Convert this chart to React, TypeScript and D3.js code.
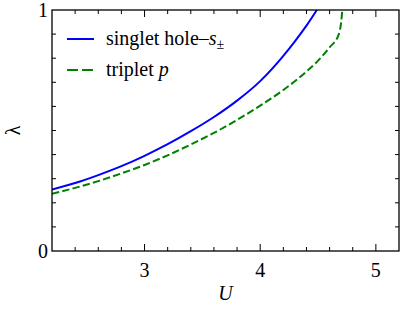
import { scaleLinear, line, curveMonotoneX } from "d3";

type Pt = { u: number; l: number };

const SINGLET_U = [2.2, 2.4, 2.6, 2.8, 3.0, 3.2, 3.4, 3.6, 3.8, 4.0, 4.2, 4.3, 4.4, 4.49];
const SINGLET_L = [0.255, 0.282, 0.315, 0.352, 0.395, 0.443, 0.497, 0.556, 0.624, 0.705, 0.81, 0.87, 0.935, 1.0];

const TRIPLET_U = [2.2, 2.4, 2.6, 2.8, 3.0, 3.2, 3.4, 3.6, 3.8, 4.0, 4.2, 4.4, 4.5, 4.6, 4.68, 4.7, 4.71];
const TRIPLET_L = [0.237, 0.262, 0.29, 0.322, 0.357, 0.397, 0.442, 0.49, 0.544, 0.603, 0.668, 0.745, 0.79, 0.845, 0.9, 0.95, 1.0];

const X_MAJOR = [3, 4, 5];
const X_MINOR = [2.4, 2.6, 2.8, 3.2, 3.4, 3.6, 3.8, 4.2, 4.4, 4.6, 4.8, 5.0];
const Y_LABELS = [0, 1];
const Y_TICKS = [0.1, 0.2, 0.3, 0.4, 0.5, 0.6, 0.7, 0.8, 0.9];

const W = 403;
const H = 310;
const M = { left: 52, right: 4, top: 10, bottom: 59 };
const SERIF = { fontFamily: "Liberation Serif, Times New Roman, serif" };

const toPts = (us: number[], ls: number[]): Pt[] => us.map((u, i) => ({ u, l: ls[i] }));

export default function App() {
  const iw = W - M.left - M.right;
  const ih = H - M.top - M.bottom;

  const x = scaleLinear().domain([2.2, 5.2]).range([0, iw]);
  const y = scaleLinear().domain([0, 1]).range([ih, 0]);

  const path = line<Pt>()
    .x(d => x(d.u))
    .y(d => y(d.l))
    .curve(curveMonotoneX);

  const singlet = path(toPts(SINGLET_U, SINGLET_L)) ?? "";
  const triplet = path(toPts(TRIPLET_U, TRIPLET_L)) ?? "";

  return (
    <svg width={W} height={H} style={{ position: "absolute", left: 0, top: 0 }}>
      <defs>
        <clipPath id="plot">
          <rect x={0} y={0} width={iw} height={ih} />
        </clipPath>
      </defs>
      <g transform={`translate(${M.left},${M.top})`}>
        {/* curves */}
        <g clipPath="url(#plot)">
          <path d={singlet} fill="none" stroke="#0000ff" strokeWidth={2} />
          <path d={triplet} fill="none" stroke="#008000" strokeWidth={2} strokeDasharray="7.4,3.2" />
        </g>

        {/* ticks, mirrored on all sides */}
        {X_MAJOR.map(t => (
          <g key={"xM" + t}>
            <line x1={x(t)} x2={x(t)} y1={ih} y2={ih - 7} stroke="black" strokeWidth={1} />
            <line x1={x(t)} x2={x(t)} y1={0} y2={7} stroke="black" strokeWidth={1} />
            <text x={x(t)} y={ih + 26} textAnchor="middle" fontSize={20} style={SERIF}>{t}</text>
          </g>
        ))}
        {X_MINOR.filter(t => !X_MAJOR.includes(t)).map(t => (
          <g key={"xm" + t}>
            <line x1={x(t)} x2={x(t)} y1={ih} y2={ih - 4} stroke="black" strokeWidth={1} />
            <line x1={x(t)} x2={x(t)} y1={0} y2={4} stroke="black" strokeWidth={1} />
          </g>
        ))}
        {Y_TICKS.map(t => (
          <g key={"y" + t}>
            <line x1={0} x2={4} y1={y(t)} y2={y(t)} stroke="black" strokeWidth={1} />
            <line x1={iw} x2={iw - 4} y1={y(t)} y2={y(t)} stroke="black" strokeWidth={1} />
          </g>
        ))}
        {Y_LABELS.map(t => (
          <text key={"yl" + t} x={-4} y={y(t) + 7} textAnchor="end" fontSize={20} style={SERIF}>{t}</text>
        ))}

        {/* frame */}
        <rect x={0} y={0} width={iw} height={ih} fill="none" stroke="black" strokeWidth={1.3} />

        {/* axis labels */}
        <text x={iw / 2} y={ih + 49} textAnchor="middle" fontSize={20} fontStyle="italic" style={SERIF}>U</text>
        <text transform={`translate(${-32},${ih / 2}) rotate(-90)`} textAnchor="middle" fontSize={20} style={SERIF}>λ</text>

        {/* legend */}
        <line x1={15} x2={42} y1={29} y2={29} stroke="#0000ff" strokeWidth={2} />
        <text x={54} y={35} fontSize={20} style={SERIF}>
          singlet hole–<tspan fontStyle="italic">s</tspan>
          <tspan fontSize={14} dy={4}>±</tspan>
        </text>
        <line x1={15} x2={42} y1={60} y2={60} stroke="#008000" strokeWidth={2} strokeDasharray="11,4" />
        <text x={54} y={66} fontSize={20} style={SERIF}>
          triplet <tspan fontStyle="italic">p</tspan>
        </text>
      </g>
    </svg>
  );
}
